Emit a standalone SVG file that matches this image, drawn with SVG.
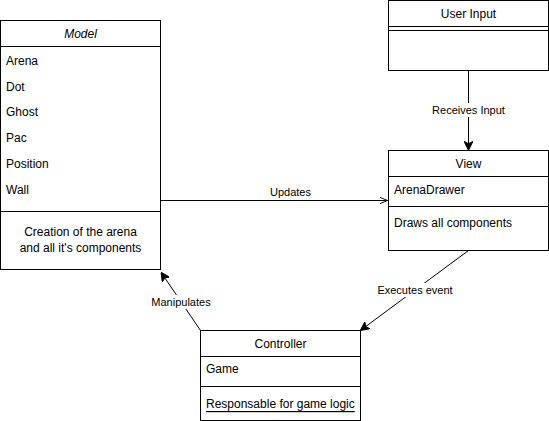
<svg xmlns="http://www.w3.org/2000/svg" width="549" height="421" viewBox="0 0 549 421">
  <style>
    .box { fill: #ffffff; stroke: #000000; stroke-width: 1; }
    .sep { fill: none; stroke: #000000; stroke-width: 1; }
    .edge { fill: none; stroke: #000000; stroke-width: 1; }
    text { font-family: "Liberation Sans", Arial, Helvetica, sans-serif; font-size: 12px; fill: #000000; dominant-baseline: central; }
    .mid { text-anchor: middle; }
    .lbl { font-size: 11px; }
    .lblbg { fill: #ffffff; }
  </style>
  <defs>
    <marker id="solid" viewBox="0 0 10 10" refX="9" refY="5" markerWidth="9" markerHeight="9" markerUnits="userSpaceOnUse" orient="auto">
      <path d="M0,0 L10,5 L0,10 L2.5,5 Z" fill="#000000" stroke="#000000" stroke-width="1"/>
    </marker>
    <marker id="open" viewBox="0 0 10 10" refX="9.5" refY="5" markerWidth="8" markerHeight="8" markerUnits="userSpaceOnUse" orient="auto">
      <path d="M0,1 L9.5,5 L0,9" fill="none" stroke="#000000" stroke-width="1.2"/>
    </marker>
  </defs>

  <!-- Connectors -->
  <g id="connectors">
    <line class="edge" x1="160.5" y1="200.5" x2="387.5" y2="200.5" marker-end="url(#open)"/>
    <rect class="lblbg" x="268" y="185" width="44" height="13"/>
    <text class="mid lbl" x="290.5" y="191.5">Updates</text>

    <line class="edge" x1="468.5" y1="70.5" x2="468.5" y2="149.5" marker-end="url(#solid)"/>
    <rect class="lblbg" x="430" y="103" width="77" height="14"/>
    <text class="mid lbl" x="468.5" y="110">Receives Input</text>

    <line class="edge" x1="468.5" y1="250.5" x2="361" y2="330" marker-end="url(#solid)"/>
    <rect class="lblbg" x="376" y="283" width="78" height="14"/>
    <text class="mid lbl" x="415" y="290">Executes event</text>

    <line class="edge" x1="200.5" y1="330.5" x2="161.5" y2="273" marker-end="url(#solid)"/>
    <rect class="lblbg" x="150" y="295" width="62" height="14"/>
    <text class="mid lbl" x="181" y="302">Manipulates</text>
  </g>

  <!-- Model -->
  <g id="model">
    <rect class="box" x="0.5" y="20.5" width="160" height="249"/>
    <line class="sep" x1="0.5" y1="46.5" x2="160.5" y2="46.5"/>
    <line class="sep" x1="0.5" y1="211.5" x2="160.5" y2="211.5"/>
    <text class="mid" x="80.5" y="33.5" font-style="italic">Model</text>
    <text x="6" y="60.5">Arena</text>
    <text x="6" y="86.5">Dot</text>
    <text x="6" y="112">Ghost</text>
    <text x="6" y="138">Pac</text>
    <text x="6" y="164">Position</text>
    <text x="6" y="190">Wall</text>
    <text class="mid" x="80.5" y="232">Creation of the arena</text>
    <text class="mid" x="80.5" y="248">and all it's components</text>
  </g>

  <!-- User Input -->
  <g id="user-input">
    <rect class="box" x="388.5" y="0.5" width="160" height="70"/>
    <line class="sep" x1="388.5" y1="26.5" x2="548.5" y2="26.5"/>
    <line class="sep" x1="388.5" y1="30.5" x2="548.5" y2="30.5"/>
    <text class="mid" x="468.5" y="14">User Input</text>
  </g>

  <!-- View -->
  <g id="view">
    <rect class="box" x="388.5" y="150.5" width="160" height="100"/>
    <line class="sep" x1="388.5" y1="176.5" x2="548.5" y2="176.5"/>
    <line class="sep" x1="388.5" y1="206.5" x2="548.5" y2="206.5"/>
    <text class="mid" x="468.5" y="163.5">View</text>
    <text x="394" y="190">ArenaDrawer</text>
    <text x="394" y="223">Draws all components</text>
  </g>

  <!-- Controller -->
  <g id="controller">
    <rect class="box" x="200.5" y="330.5" width="160" height="90"/>
    <line class="sep" x1="200.5" y1="356.5" x2="360.5" y2="356.5"/>
    <line class="sep" x1="200.5" y1="386.5" x2="360.5" y2="386.5"/>
    <text class="mid" x="280.5" y="344">Controller</text>
    <text x="206" y="369">Game</text>
    <text x="206" y="404" text-decoration="underline">Responsable for game logic</text>
  </g>
</svg>
